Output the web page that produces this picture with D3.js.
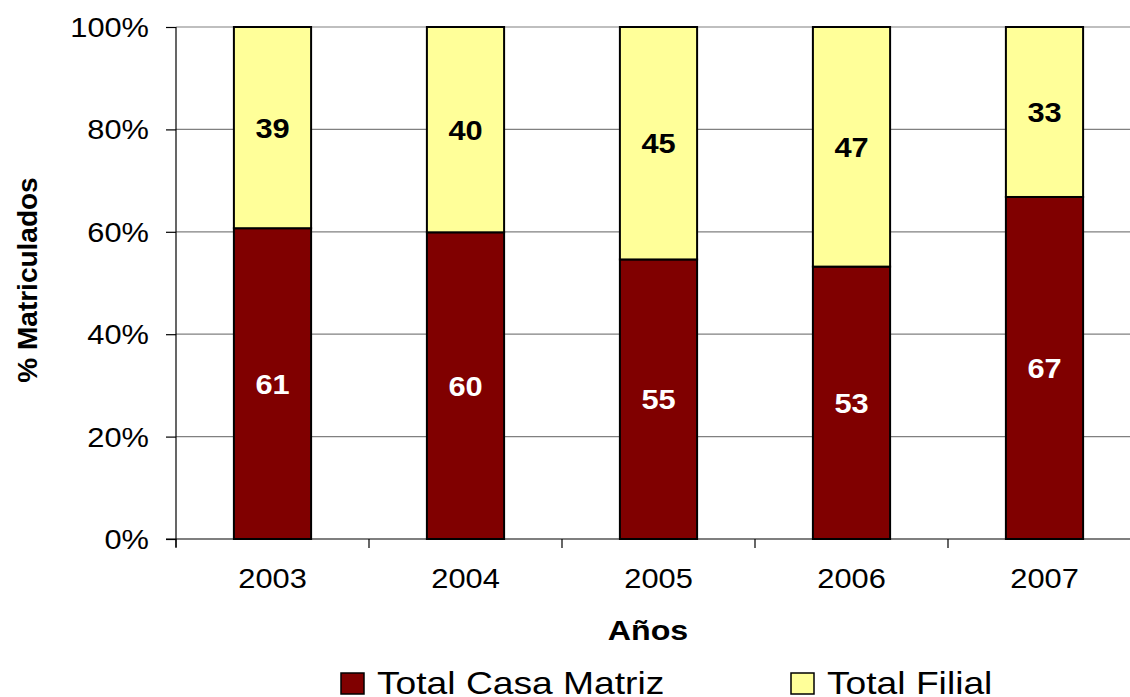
<!DOCTYPE html>
<html>
<head>
<meta charset="utf-8">
<script src="https://cdn.jsdelivr.net/npm/d3@7"></script>
<style>
html,body{margin:0;padding:0;background:#fff;}
svg{display:block;font-family:"Liberation Sans",Arial,sans-serif;}
</style>
</head>
<body>
<svg id="chart" width="1130" height="697"></svg>
<script>
const categories = ["2003","2004","2005","2006","2007"];
const casaMatriz = [60.7, 59.9, 54.6, 53.2, 66.8];
const filial = [39.3, 40.1, 45.4, 46.8, 33.2];
const seriesNames = ["Total Casa Matriz","Total Filial"];
const seriesColors = ["#800000","#FFFF99"];
const labelColors = ["#ffffff","#000000"];
const yTicks = [0,20,40,60,80,100];

const svg = d3.select("#chart");
const margin = {left:176, top:27, bottom:158};
const W = 1130, H = 697;
const plotW = 193*5;
const x = d3.scaleBand().domain(categories).range([margin.left, margin.left+plotW]).paddingInner(0.6).paddingOuter(0.3);
const xb = d3.scaleBand().domain(categories).range([margin.left, margin.left+plotW]).padding(0);
const y = d3.scaleLinear().domain([0,100]).range([H-margin.bottom, margin.top]);

// stretched text helper
function stext(parent, tx, ty, sx, str, opts){
  const g = parent.append("g").attr("transform",`translate(${tx},${ty}) scale(${sx},1)`);
  const t = g.append("text").attr("x",0).attr("y",0).text(str);
  Object.entries(opts).forEach(([k,v])=>t.attr(k,v));
  return t;
}

// gridlines
svg.append("g").selectAll("line").data(yTicks.filter(d=>d>0)).join("line")
  .attr("x1", margin.left).attr("x2", W)
  .attr("y1", d=>y(d)).attr("y2", d=>y(d))
  .attr("stroke","#808080").attr("stroke-width",1.2);

// y-axis
const yAxis = d3.axisLeft(y).tickValues(yTicks).tickFormat(()=>"").tickSize(10);
const gy = svg.append("g").attr("transform",`translate(${margin.left},0)`).call(yAxis);
gy.select(".domain").attr("d",`M0,${y(100)}V${y(0)+8}`).attr("stroke","#000").attr("stroke-width",1.2);
gy.selectAll(".tick line").attr("stroke","#000").attr("stroke-width",1.2);
const yl = svg.append("g");
yTicks.forEach(d=>{
  stext(yl, margin.left-27, y(d), 1.1, d+"%", {"text-anchor":"end","font-size":28,"dy":"0.36em","fill":"#000"});
});

// stacked data
const stackData = categories.map((c,i)=>({cat:c, matriz:casaMatriz[i], filial:filial[i]}));
const stack = d3.stack().keys(["matriz","filial"]);
const layers = stack(stackData);

const g = svg.append("g");
layers.forEach((layer,li)=>{
  g.append("g").selectAll("rect").data(layer).join("rect")
    .attr("x", d=>x(d.data.cat))
    .attr("width", x.bandwidth())
    .attr("y", d=>y(d[1]))
    .attr("height", d=>y(d[0])-y(d[1]))
    .attr("fill", seriesColors[li])
    .attr("stroke","#000").attr("stroke-width",2);
});
const lg = svg.append("g");
layers.forEach((layer,li)=>{
  layer.forEach(d=>{
    stext(lg, x(d.data.cat)+x.bandwidth()/2, (y(d[0])+y(d[1]))/2, 1.1, Math.round(d[1]-d[0]),
      {"text-anchor":"middle","dy":"0.36em","font-weight":"bold","font-size":28,"fill":labelColors[li]});
  });
});

// x-axis
const gx = svg.append("g").attr("transform",`translate(0,${y(0)})`);
gx.append("line").attr("x1",margin.left-10).attr("x2",W).attr("stroke","#000").attr("stroke-width",1.2);
gx.selectAll("line.tk").data(categories).join("line").attr("class","tk")
  .attr("x1",d=>xb(d)).attr("x2",d=>xb(d)).attr("y1",0).attr("y2",9)
  .attr("stroke","#000").attr("stroke-width",1.2);
categories.forEach(c=>{
  stext(gx, xb(c)+xb.bandwidth()/2, 49, 1.1, c, {"text-anchor":"middle","font-size":28,"fill":"#000"});
});

// axis titles
stext(svg, 648, 640, 1.15, "Años", {"text-anchor":"middle","font-weight":"bold","font-size":28,"fill":"#000"});
svg.append("text").attr("transform",`translate(37,${(y(0)+y(100))/2 - 3}) rotate(-90)`)
  .attr("text-anchor","middle").attr("font-weight","bold").attr("font-size",28).text("% Matriculados");

// legend
const legX = [341, 791];
seriesNames.forEach((n,i)=>{
  svg.append("rect").attr("x",legX[i]).attr("y",673).attr("width",23).attr("height",21)
    .attr("fill",seriesColors[i]).attr("stroke","#000").attr("stroke-width",1.5);
  stext(svg, legX[i]+36, 694, 1.2, n, {"font-size":31,"fill":"#000"});
});
</script>
</body>
</html>
